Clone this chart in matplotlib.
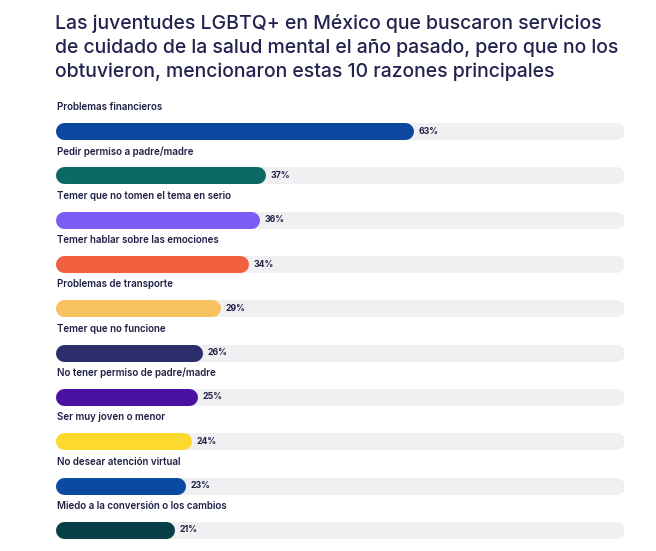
import matplotlib
matplotlib.use("Agg")
import matplotlib.pyplot as plt

categories = [
    "Problemas financieros",
    "Pedir permiso a padre/madre",
    "Temer que no tomen el tema en serio",
    "Temer hablar sobre las emociones",
    "Problemas de transporte",
    "Temer que no funcione",
    "No tener permiso de padre/madre",
    "Ser muy joven o menor",
    "No desear atención virtual",
    "Miedo a la conversión o los cambios",
]
values = [63, 37, 36, 34, 29, 26, 25, 24, 23, 21]
colors = ["#0b47a1", "#0b6a65", "#7b5df5", "#f2603f", "#f8c35e",
          "#2b2e6b", "#4a10a3", "#fdd92c", "#0b4aa3", "#073f47"]
title = ("Las juventudes LGBTQ+ en México que buscaron servicios\n"
         "de cuidado de la salud mental el año pasado, pero que no los\n"
         "obtuvieron, mencionaron estas 10 razones principales")

W, H = 656, 551
fig = plt.figure(figsize=(W / 100, H / 100), dpi=100)
fig.patch.set_facecolor("white")

x0, x1 = 55, 624
ytop = 87
ax = fig.add_axes([x0 / W, 0, (x1 - x0) / W, (H - ytop) / H])
ax.set_xlim(0, 100)
ax.set_ylim(9.474, -0.993)
ax.axis("off")

px_per_unit = (x1 - x0) / 100
bar_px = 17
r = bar_px / 2 / px_per_unit
lw = bar_px * 0.72
font = ["Inter", "DejaVu Sans"]

for i, (cat, v, c) in enumerate(zip(categories, values, colors)):
    ax.plot([r, 100 - r], [i, i], color="#f0f0f2", lw=lw,
            solid_capstyle="round")
    ax.plot([r, v - r], [i, i], color=c, lw=lw, solid_capstyle="round")
    ax.text(v + 0.9, i, f"{v}%", va="center", ha="left", fontsize=6.3,
            fontweight="bold", color="#1f2046", family=font)
    ax.text(0.3, i - 0.54, cat, va="center", ha="left", fontsize=7,
            color="#1f2046", family=font, fontweight="semibold")

fig.text(55 / W, 1 - 14 / H, title, ha="left", va="top", fontsize=14,
         color="#23234f", family=font, fontweight="medium", linespacing=1.38)

fig.savefig("out.png", dpi=100, facecolor="white")
